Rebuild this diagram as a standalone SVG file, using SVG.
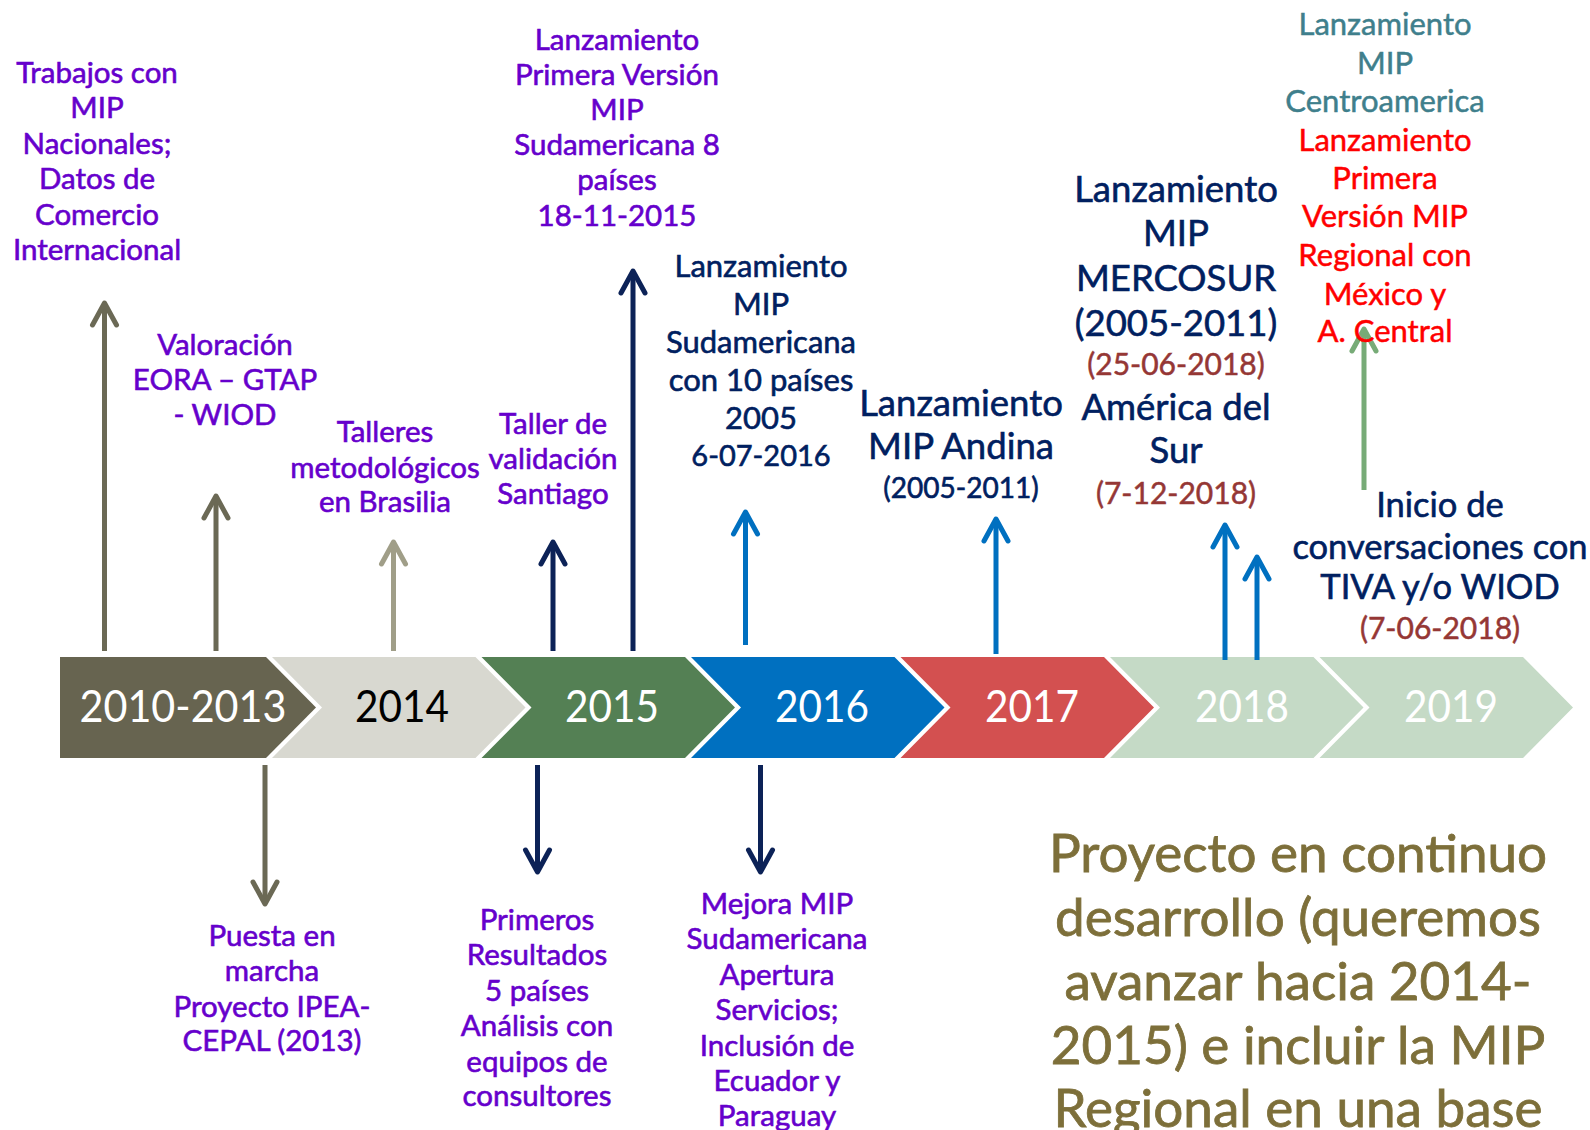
<svg xmlns="http://www.w3.org/2000/svg" width="1590" height="1130" viewBox="0 0 1590 1130">
<style>
text{font-family:Lato,"Liberation Sans",sans-serif;text-anchor:middle}
.yr{font-size:45px;fill:#fff}
.p{font-size:29.5px;fill:#6600CC;stroke:#6600CC;stroke-width:0.6px}
.n{fill:#002060;stroke:#002060;stroke-width:0.6px}
.b{fill:#953735;stroke:#953735;stroke-width:0.5px}
.t{fill:#3F7F8C;stroke:#3F7F8C;stroke-width:0.5px}
.r{fill:#FF0000;stroke:#FF0000;stroke-width:0.5px}
.o{font-size:53px;fill:#7D6F3A;stroke:#7D6F3A;stroke-width:0.8px}
.sh{fill:none;stroke-width:5}
.ol{stroke:#6B6955}.lo{stroke:#A09E88}.nv{stroke:#0C2257}.bl{stroke:#0070C0}.gr{stroke:#77AB77}
</style>
<defs>
<marker id="mOl" viewBox="-30 -16 34 32" markerWidth="34" markerHeight="32" refX="0" refY="0" orient="auto" markerUnits="userSpaceOnUse" overflow="visible"><path d="M-22,-12 L0,0 L-22,12" fill="none" stroke="#6B6955" stroke-width="5" stroke-linecap="round" stroke-linejoin="round"/></marker>
<marker id="mLo" viewBox="-30 -16 34 32" markerWidth="34" markerHeight="32" refX="0" refY="0" orient="auto" markerUnits="userSpaceOnUse" overflow="visible"><path d="M-22,-12 L0,0 L-22,12" fill="none" stroke="#A09E88" stroke-width="5" stroke-linecap="round" stroke-linejoin="round"/></marker>
<marker id="mNv" viewBox="-30 -16 34 32" markerWidth="34" markerHeight="32" refX="0" refY="0" orient="auto" markerUnits="userSpaceOnUse" overflow="visible"><path d="M-22,-12 L0,0 L-22,12" fill="none" stroke="#0C2257" stroke-width="5" stroke-linecap="round" stroke-linejoin="round"/></marker>
<marker id="mBl" viewBox="-30 -16 34 32" markerWidth="34" markerHeight="32" refX="0" refY="0" orient="auto" markerUnits="userSpaceOnUse" overflow="visible"><path d="M-22,-12 L0,0 L-22,12" fill="none" stroke="#0070C0" stroke-width="5" stroke-linecap="round" stroke-linejoin="round"/></marker>
<marker id="mGr" viewBox="-30 -16 34 32" markerWidth="34" markerHeight="32" refX="0" refY="0" orient="auto" markerUnits="userSpaceOnUse" overflow="visible"><path d="M-22,-12 L0,0 L-22,12" fill="none" stroke="#77AB77" stroke-width="5" stroke-linecap="round" stroke-linejoin="round"/></marker>
</defs>
<rect width="1590" height="1130" fill="#fff"/>

<g id="timeline">
<g id="y2010"><polygon points="60,657 266,657 316,707.5 266,758 60,758" fill="#676450"/><text class="yr" x="183" y="722" textLength="207" lengthAdjust="spacingAndGlyphs">2010-2013</text></g>
<g id="y2014"><polygon points="272,657 475.5,657 525.5,707.5 475.5,758 272,758 322,707.5" fill="#D8D8D0"/><text class="yr" x="402" y="722" textLength="94" lengthAdjust="spacingAndGlyphs" style="fill:#000">2014</text></g>
<g id="y2015"><polygon points="481.5,657 685,657 735,707.5 685,758 481.5,758 531.5,707.5" fill="#548054"/><text class="yr" x="612" y="722" textLength="94" lengthAdjust="spacingAndGlyphs">2015</text></g>
<g id="y2016"><polygon points="691,657 894.5,657 944.5,707.5 894.5,758 691,758 741,707.5" fill="#0070C0"/><text class="yr" x="822" y="722" textLength="94" lengthAdjust="spacingAndGlyphs">2016</text></g>
<g id="y2017"><polygon points="900.5,657 1104,657 1154,707.5 1104,758 900.5,758 950.5,707.5" fill="#D35050"/><text class="yr" x="1032" y="722" textLength="94" lengthAdjust="spacingAndGlyphs">2017</text></g>
<g id="y2018"><polygon points="1110,657 1313.5,657 1363.5,707.5 1313.5,758 1110,758 1160,707.5" fill="#C5DAC6"/><text class="yr" x="1242" y="722" textLength="94" lengthAdjust="spacingAndGlyphs">2018</text></g>
<g id="y2019"><polygon points="1319.5,657 1523,657 1573,707.5 1523,758 1319.5,758 1369.5,707.5" fill="#C5DAC6"/><text class="yr" x="1451" y="722" textLength="94" lengthAdjust="spacingAndGlyphs">2019</text></g>
</g>

<g id="connectors">
<path class="sh ol" d="M104.5,651 V303" marker-end="url(#mOl)"/>
<path class="sh ol" d="M216,651 V496" marker-end="url(#mOl)"/>
<path class="sh lo" d="M393.5,651 V542" marker-end="url(#mLo)"/>
<path class="sh nv" d="M553,651 V542" marker-end="url(#mNv)"/>
<path class="sh nv" d="M633,651 V271" marker-end="url(#mNv)"/>
<path class="sh bl" d="M745.5,645 V512" marker-end="url(#mBl)"/>
<path class="sh bl" d="M996,654 V519" marker-end="url(#mBl)"/>
<path class="sh bl" d="M1225,660 V525" marker-end="url(#mBl)"/>
<path class="sh bl" d="M1257,660 V557" marker-end="url(#mBl)"/>
<path class="sh gr" d="M1364,490 V329" marker-end="url(#mGr)"/>
<path class="sh ol" d="M265,765 V904" marker-end="url(#mOl)"/>
<path class="sh nv" d="M537.5,765 V872" marker-end="url(#mNv)"/>
<path class="sh nv" d="M760.5,765 V872" marker-end="url(#mNv)"/>
</g>

<g id="n-trabajos" class="p">
<text x="97" y="82.5">Trabajos con</text><text x="97" y="118">MIP</text><text x="97" y="153.5">Nacionales;</text><text x="97" y="189">Datos de</text><text x="97" y="224.5">Comercio</text><text x="97" y="260">Internacional</text>
</g>
<g id="n-valoracion" class="p">
<text x="225" y="355">Valoración</text><text x="225" y="390">EORA – GTAP</text><text x="225" y="425">- WIOD</text>
</g>
<g id="n-talleres" class="p">
<text x="385" y="442">Talleres</text><text x="385" y="477.5">metodológicos</text><text x="385" y="512">en Brasilia</text>
</g>
<g id="n-taller" class="p">
<text x="553" y="434">Taller de</text><text x="553" y="469">validación</text><text x="553" y="504">Santiago</text>
</g>
<g id="n-primera" class="p">
<text x="617" y="50">Lanzamiento</text><text x="617" y="85">Primera Versión</text><text x="617" y="120">MIP</text><text x="617" y="155">Sudamericana 8</text><text x="617" y="190">países</text><text x="617" y="226">18-11-2015</text>
</g>
<g id="n-sudam10" class="n" style="font-size:31px">
<text x="761" y="277">Lanzamiento</text><text x="761" y="315">MIP</text><text x="761" y="353">Sudamericana</text><text x="761" y="391">con 10 países</text><text x="761" y="429">2005</text><text x="761" y="466" style="font-size:29px">6-07-2016</text>
</g>
<g id="n-andina" class="n" style="font-size:36.5px">
<text x="961" y="416">Lanzamiento</text><text x="961" y="459">MIP Andina</text><text x="961" y="498" style="font-size:28px">(2005-2011)</text>
</g>
<g id="n-mercosur" style="font-size:36.5px">
<text class="n" x="1176" y="202">Lanzamiento</text><text class="n" x="1176" y="246">MIP</text><text class="n" x="1176" y="291">MERCOSUR</text><text class="n" x="1176" y="335.5">(2005-2011)</text>
<text class="b" x="1176" y="375" style="font-size:30px">(25-06-2018)</text>
<text class="n" x="1176" y="420">América del</text><text class="n" x="1176" y="463">Sur</text>
<text class="b" x="1176" y="504" style="font-size:30px">(7-12-2018)</text>
</g>
<g id="n-centro" style="font-size:31px">
<text class="t" x="1385" y="35">Lanzamiento</text><text class="t" x="1385" y="73.5">MIP</text><text class="t" x="1385" y="112">Centroamerica</text>
<text class="r" x="1385" y="150.5">Lanzamiento</text><text class="r" x="1385" y="189">Primera</text><text class="r" x="1385" y="227">Versión MIP</text><text class="r" x="1385" y="266">Regional con</text><text class="r" x="1385" y="304.5">México y</text><text class="r" x="1385" y="342">A. Central</text>
</g>
<g id="n-tiva" style="font-size:34.5px">
<text class="n" x="1440" y="517">Inicio de</text><text class="n" x="1440" y="558.5">conversaciones con</text><text class="n" x="1440" y="599">TIVA y/o WIOD</text>
<text class="b" x="1440" y="639" style="font-size:30px">(7-06-2018)</text>
</g>
<g id="n-puesta" class="p">
<text x="272" y="946">Puesta en</text><text x="272" y="981">marcha</text><text x="272" y="1017">Proyecto IPEA-</text><text x="272" y="1051">CEPAL (2013)</text>
</g>
<g id="n-primeros" class="p">
<text x="537" y="930">Primeros</text><text x="537" y="965">Resultados</text><text x="537" y="1001">5 países</text><text x="537" y="1036">Análisis con</text><text x="537" y="1072">equipos de</text><text x="537" y="1106">consultores</text>
</g>
<g id="n-mejora" class="p">
<text x="777" y="913.5">Mejora MIP</text><text x="777" y="949">Sudamericana</text><text x="777" y="984.5">Apertura</text><text x="777" y="1020">Servicios;</text><text x="777" y="1055.5">Inclusión de</text><text x="777" y="1091">Ecuador y</text><text x="777" y="1125.5">Paraguay</text>
</g>
<g id="n-proyecto" class="o">
<text x="1298" y="872">Proyecto en continuo</text><text x="1298" y="936">desarrollo (queremos</text><text x="1298" y="1000">avanzar hacia 2014-</text><text x="1298" y="1063.5">2015) e incluir la MIP</text><text x="1298" y="1127">Regional en una base</text>
</g>
</svg>
